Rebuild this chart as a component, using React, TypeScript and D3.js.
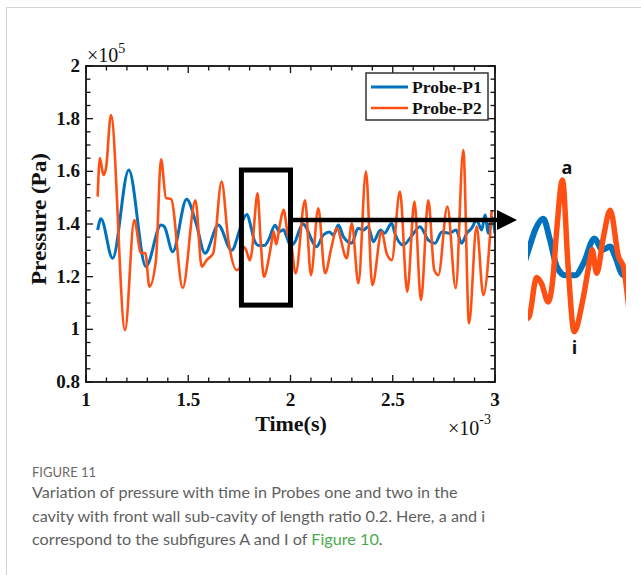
import React from 'react';
import * as d3 from 'd3';

// Probe P1 (blue) – time in ms (×1e-3 s), pressure in ×1e5 Pa
const p1Time = [1.057, 1.073, 1.13, 1.209, 1.293, 1.367, 1.383, 1.424, 1.492, 1.538, 1.582, 1.647, 1.712,
  1.75, 1.766, 1.788, 1.806, 1.824, 1.846, 1.873, 1.895, 1.924, 1.945, 1.966, 1.979, 2.001,
  2.02, 2.06, 2.128, 2.16, 2.19, 2.21, 2.234, 2.26, 2.3, 2.33, 2.356, 2.38, 2.405, 2.44, 2.46, 2.495,
  2.51, 2.552, 2.59, 2.633, 2.674, 2.707, 2.74, 2.775, 2.81, 2.837, 2.862, 2.886, 2.91, 2.935, 2.951,
  2.968, 2.984, 3.0];
const p1Pressure = [1.377, 1.42, 1.27, 1.605, 1.238, 1.396, 1.39, 1.295, 1.494, 1.404, 1.289, 1.396, 1.3,
  1.374, 1.412, 1.436, 1.391, 1.336, 1.318, 1.318, 1.343, 1.395, 1.371, 1.378, 1.357, 1.318,
  1.33, 1.4, 1.314, 1.358, 1.37, 1.358, 1.396, 1.35, 1.327, 1.384, 1.377, 1.39, 1.333, 1.377, 1.365, 1.403,
  1.365, 1.32, 1.352, 1.39, 1.339, 1.327, 1.37, 1.365, 1.377, 1.327, 1.365, 1.384, 1.415, 1.377, 1.434,
  1.365, 1.427, 1.365];

// Probe P2 (orange)
const p2Time = [1.057, 1.068, 1.085, 1.098, 1.122, 1.191, 1.236, 1.269, 1.29, 1.31, 1.342, 1.367, 1.391,
  1.416, 1.473, 1.535, 1.566, 1.59, 1.622, 1.663, 1.696, 1.737,
  1.75, 1.77, 1.783, 1.801, 1.814, 1.823, 1.839, 1.854, 1.87, 1.894, 1.912, 1.918, 1.93, 1.948, 1.966,
  1.988, 2.001, 2.025, 2.071, 2.1, 2.136, 2.169, 2.2, 2.226, 2.275, 2.3, 2.332, 2.369, 2.4, 2.446, 2.47,
  2.495, 2.535, 2.571, 2.606, 2.638, 2.674, 2.703, 2.723, 2.767, 2.808, 2.845, 2.873, 2.91, 2.943, 2.984];
const p2Pressure = [1.504, 1.65, 1.586, 1.613, 1.814, 0.997, 1.415, 1.29, 1.29, 1.162, 1.263, 1.646, 1.499,
  1.495, 1.157, 1.49, 1.238, 1.263, 1.289, 1.561, 1.339, 1.225,
  1.231, 1.313, 1.301, 1.262, 1.315, 1.405, 1.517, 1.336, 1.2, 1.27, 1.35, 1.371, 1.322, 1.398, 1.454,
  1.357, 1.336, 1.213, 1.49, 1.206, 1.46, 1.213, 1.31, 1.384, 1.27, 1.403, 1.175, 1.599, 1.168, 1.371, 1.289,
  1.263, 1.523, 1.143, 1.485, 1.111, 1.49, 1.225, 1.206, 1.466, 1.156, 1.681, 1.023, 1.39, 1.13, 1.453];

const xTicks = [1, 1.5, 2, 2.5, 3];
const xTickLabels = ['1', '1.5', '2', '2.5', '3'];
const yTicks = [0.8, 1, 1.2, 1.4, 1.6, 1.8, 2];
const yTickLabels = ['0.8', '1', '1.2', '1.4', '1.6', '1.8', '2'];
const seriesNames = ['Probe-P1', 'Probe-P2'];

// highlighted window and zoomed inset window
const boxTime = [1.76, 2.0];
const boxPressure = [1.092, 1.605];
const insetTime = [1.75, 2.0];
const insetPressure = [1.2, 1.517];
const arrowPressure = 1.415;

const captionTitle = 'FIGURE 11';
const captionLines = [
  'Variation of pressure with time in Probes one and two in the',
  'cavity with front wall sub-cavity of length ratio 0.2. Here, a and i',
];
const captionLast = 'correspond to the subfigures A and I of ';
const captionLink = 'Figure 10';

const BLUE = '#0072BD';
const ORANGE = '#FF5014';
const SERIF = '"Liberation Serif", "Times New Roman", serif';
const SANS = 'Lato, "Open Sans", sans-serif';

export default function App() {
  const W = 641, H = 575;
  const m = { left: 86, right: 495, top: 66, bottom: 382 };

  const x = d3.scaleLinear().domain([1, 3]).range([m.left, m.right]);
  const y = d3.scaleLinear().domain([0.8, 2]).range([m.bottom, m.top]);

  const p1 = p1Time.map((t, i) => [t, p1Pressure[i]] as [number, number]);
  const p2 = p2Time.map((t, i) => [t, p2Pressure[i]] as [number, number]);

  const line = d3.line<[number, number]>()
    .x(d => x(d[0]))
    .y(d => y(d[1]))
    .curve(d3.curveMonotoneX);

  const xi = d3.scaleLinear().domain(insetTime).range([529, 623]);
  const yi = d3.scaleLinear().domain(insetPressure).range([331.7, 180]);
  const insetLine = d3.line<[number, number]>()
    .x(d => xi(d[0]))
    .y(d => yi(d[1]))
    .curve(d3.curveMonotoneX);

  const xMinor = d3.range(1, 3.0001, 0.1);
  const yMinor = d3.range(0.8, 2.0001, 0.05);

  const boxX0 = x(boxTime[0]), boxX1 = x(boxTime[1]);
  const boxY0 = y(boxPressure[1]), boxY1 = y(boxPressure[0]);
  const arrowY = y(arrowPressure);
  const arrowTip = 517;

  return (
    <svg width={W} height={H} style={{ position: 'absolute', left: 0, top: 0, background: '#fff' }}>
      {/* card frame */}
      <rect x={6.5} y={7.5} width={800} height={800} fill="none" stroke="#d4d4d4" strokeWidth={1} />

      <defs>
        <clipPath id="plotClip">
          <rect x={m.left} y={m.top} width={m.right - m.left} height={m.bottom - m.top} />
        </clipPath>
        <clipPath id="insetClip">
          <rect x={528} y={140} width={98} height={230} />
        </clipPath>
      </defs>

      {/* series */}
      <g clipPath="url(#plotClip)">
        <path d={line(p1) || ''} fill="none" stroke={BLUE} strokeWidth={3} strokeLinejoin="round" />
        <path d={line(p2) || ''} fill="none" stroke={ORANGE} strokeWidth={2.6} strokeLinejoin="round" />
      </g>

      {/* ticks on all four sides */}
      <g stroke="#111" strokeWidth={1.3}>
        {yMinor.map((v, i) => {
          const major = yTicks.some(t => Math.abs(t - v) < 1e-6);
          const len = major ? 7 : 4.5;
          return (
            <g key={'y' + i}>
              <line x1={m.left} x2={m.left + len} y1={y(v)} y2={y(v)} />
              <line x1={m.right} x2={m.right - len} y1={y(v)} y2={y(v)} />
            </g>
          );
        })}
        {xMinor.map((v, i) => {
          const major = xTicks.some(t => Math.abs(t - v) < 1e-6);
          const len = major ? 7 : 4.5;
          return (
            <g key={'x' + i}>
              <line x1={x(v)} x2={x(v)} y1={m.bottom} y2={m.bottom - len} />
              <line x1={x(v)} x2={x(v)} y1={m.top} y2={m.top + len} />
            </g>
          );
        })}
      </g>

      {/* axes box */}
      <rect x={m.left} y={m.top} width={m.right - m.left} height={m.bottom - m.top}
        fill="none" stroke="#111" strokeWidth={1.8} />

      {/* tick labels */}
      <g fontFamily={SERIF} fontWeight="bold" fontSize={19} fill="#111">
        {yTicks.map((t, i) => (
          <text key={'yl' + i} x={m.left - 6} y={y(t) + 6} textAnchor="end">{yTickLabels[i]}</text>
        ))}
        {xTicks.map((t, i) => (
          <text key={'xl' + i} x={x(t)} y={406} textAnchor="middle">{xTickLabels[i]}</text>
        ))}
      </g>

      {/* exponents */}
      <g fontFamily={SERIF} fill="#111">
        <text x={87} y={62} fontSize={20}>×10<tspan dy={-9} fontSize={14}>5</tspan></text>
        <text x={448} y={435} fontSize={20}>×10<tspan dy={-11} fontSize={14}>-3</tspan></text>
      </g>

      {/* axis titles */}
      <text x={291} y={431} textAnchor="middle" fontFamily={SERIF} fontWeight="bold" fontSize={22} fill="#111">Time(s)</text>
      <text transform={`translate(46,${219}) rotate(-90)`} textAnchor="middle" fontFamily={SERIF}
        fontWeight="bold" fontSize={21} fill="#111" textLength={132} lengthAdjust="spacingAndGlyphs">Pressure (Pa)</text>

      {/* legend */}
      <g>
        <rect x={366} y={73} width={122} height={47} fill="#fff" stroke="#333" strokeWidth={1.5} />
        <line x1={371} x2={408} y1={87} y2={87} stroke={BLUE} strokeWidth={3} />
        <line x1={371} x2={408} y1={108} y2={108} stroke={ORANGE} strokeWidth={2.6} />
        <g fontFamily={SERIF} fontWeight="bold" fontSize={17.5} fill="#111">
          <text x={412} y={93}>{seriesNames[0]}</text>
          <text x={412} y={114}>{seriesNames[1]}</text>
        </g>
      </g>

      {/* highlight box and arrow */}
      <rect x={boxX0} y={boxY0} width={boxX1 - boxX0} height={boxY1 - boxY0}
        fill="none" stroke="#000" strokeWidth={5} />
      <line x1={boxX1} x2={arrowTip - 18} y1={arrowY} y2={arrowY} stroke="#000" strokeWidth={4.5} />
      <path d={`M${arrowTip - 20},${arrowY - 10}L${arrowTip},${arrowY}L${arrowTip - 20},${arrowY + 10}Z`} fill="#000" />

      {/* zoomed inset */}
      <g clipPath="url(#insetClip)">
        <path d={insetLine(p1) || ''} fill="none" stroke={BLUE} strokeWidth={6} strokeLinejoin="round" />
        <path d={insetLine(p2) || ''} fill="none" stroke={ORANGE} strokeWidth={5.5} strokeLinejoin="round" />
      </g>
      <g fontFamily='"Open Sans", "DejaVu Sans", sans-serif' fontWeight="bold" fontSize={18} fill="#111" textAnchor="middle">
        <text x={567} y={174}>a</text>
        <text x={574.5} y={354}>i</text>
      </g>

      {/* caption */}
      <text x={32} y={477} fontFamily={SANS} fontSize={13} fill="#6a6a6a">{captionTitle}</text>
      <g fontFamily={SANS} fontSize={16.2} fill="#5f5f5f">
        <text x={32} y={498}>{captionLines[0]}</text>
        <text x={32} y={522}>{captionLines[1]}</text>
        <text x={32} y={545}>
          {captionLast}<tspan fill="#4BAA4B">{captionLink}</tspan>.
        </text>
      </g>
    </svg>
  );
}
